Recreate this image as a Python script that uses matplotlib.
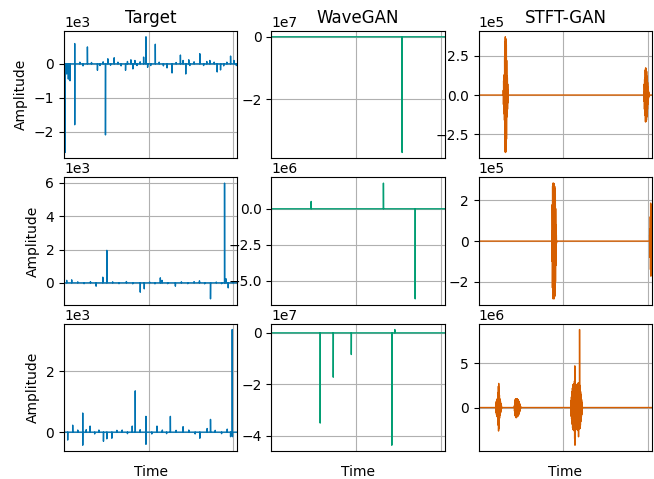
import numpy as np
import matplotlib
matplotlib.use("Agg")
import matplotlib.pyplot as plt

# 16384 samples at 16 kHz, baseline is flat zero
sr = 16000
n_samples = 16384
burst_step = 16

titles = ["Target", "WaveGAN", "STFT-GAN"]
colors = ["#0173b2", "#029e73", "#d55e00"]

# ---- Target (units of 1e3) ----
target1_idx = [95, 253, 411, 569, 1012, 1013, 1500, 1800, 2214, 2600, 3163, 3400, 3700,
               3922, 4144, 4400, 4745, 5100, 5400, 5820, 6000, 6326, 6516, 6706, 6900,
               7200, 7528, 7750, 7908, 8200, 8635, 9000, 9400, 9742, 10217, 10600, 11008,
               11260, 11513, 11798, 11900, 12300, 12842, 13200, 13500, 13791, 14200,
               14487, 14803, 15100, 15400, 15752, 16068, 16300]
target1_amp = [-2.62, -0.3, -0.45, -0.5, 0.6, -1.8, 0.05, -0.06, 0.5, 0.04, -0.19, -0.05, 0.06,
               -2.1, 0.15, -0.04, 0.18, 0.05, -0.06, -0.19, 0.07, 0.12, -0.15, 0.1, -0.05,
               0.06, 0.2, 0.8, -0.1, -0.05, 0.58, 0.05, -0.06, -0.12, -0.27, 0.04, 0.26,
               0.1, -0.3, 0.12, -0.05, 0.06, 0.3, -0.05, 0.07, 0.1, 0.05,
               -0.24, -0.18, -0.06, 0.05, 0.23, 0.1, -0.05]

target2_idx = [253, 727, 1300, 1900, 2500, 3036, 3669, 4049, 4600, 5200, 5900, 6500, 7212,
               7591, 8100, 8600, 9109, 9268, 9800, 10533, 11100, 11700, 12300, 12810,
               13300, 13854, 14400, 14900, 15182, 15309, 15530, 16000]
target2_amp = [0.15, 0.18, 0.06, -0.05, 0.07, -0.2, 0.34, 1.95, 0.06, -0.05, 0.08, -0.06, -0.56,
               -0.36, 0.05, -0.06, 0.3, 0.15, -0.05, -0.2, 0.06, -0.05, 0.07, 0.12,
               -0.06, -0.96, 0.05, -0.05, 5.98, 0.25, -0.3, 0.06]

target3_idx = [348, 822, 1300, 1771, 1772, 2100, 2467, 2900, 3300, 3732, 4049, 4523, 5000,
               5500, 6000, 6453, 6737, 7200, 7749, 7750, 8300, 8793, 9300, 9700, 10058,
               10600, 11260, 11800, 12400, 12842, 13538, 13854, 14300, 14900, 15435,
               15752, 15910, 15930]
target3_amp = [-0.26, 0.23, 0.07, 0.63, -0.43, 0.08, 0.2, -0.06, 0.07, -0.3, -0.22, -0.2, 0.06,
               0.07, -0.05, 0.2, 1.36, 0.08, 0.52, -0.4, -0.06, 0.2, 0.07, -0.05, 0.52,
               0.06, 0.18, 0.07, -0.06, -0.2, 0.12, 0.42, 0.06, -0.05, 0.1,
               -0.15, 3.38, -0.15]

# ---- WaveGAN ----
wavegan1_idx = [12367]
wavegan1_amp = [-3.71]          # 1e7
wavegan2_idx = [3764, 10596, 13601]
wavegan2_amp = [0.51, 1.78, -6.25]  # 1e6
wavegan3_idx = [4618, 5852, 7560, 11387, 11671]
wavegan3_amp = [-3.5, -1.72, -0.84, -4.36, 0.13]  # 1e7

# ---- STFT-GAN bursts: (start sample, values) ----
stft1_bursts = [  # 1e5
    (2320, [0.3, -0.6, 0.9, -1.1, 1.2, -1.2, 1.3, -1.6, 2.4, -2.9, 3.4, -3.6, 3.7, -3.65, 3.6,
            -3.6, 3.5, -3.5, 3.2, -2.8, 2.2, -1.4, 1.2, -1.2, 1.1, -0.9, 0.7, -0.5, 0.3, -0.1]),
    (15620, [0.2, -0.4, 0.7, -0.9, 1.0, -1.0, 1.1, -1.3, 1.6, -1.7, 1.72, -1.7, 1.7, -1.65, 1.6,
             -1.6, 1.5, -1.4, 1.2, -1.0, 1.0, -0.9, 0.8, -0.6, 0.5, -0.4, 0.3, -0.2, 0.2, -0.1,
             0.1, -0.05]),
]
stft2_bursts = [  # 1e5
    (6920, [0.5, -1.0, 1.8, -2.3, 2.7, -2.8, 2.85, -2.84, 2.8, -2.8, 2.85, -2.8, 2.8, -2.84,
            2.8, -2.75, 2.7, -2.7, 2.6, -2.5, 2.3, -2.0, 1.6, -1.2, 0.8, -0.5, 0.3, -0.1]),
    (16160, [0.3, -0.3, 0.6, -0.8, 1.2, -1.4, 1.87, -1.72, 1.8, -1.7, 1.7, -1.6, 1.5, -1.2]),
]
stft3_bursts = [  # 1e6
    (1600, [0.2, -0.3, 0.5, -0.6, 0.7, -0.8, 0.8, -0.9, 0.9, -1.0, 1.0, -1.1, 1.2, -1.4, 1.7,
            -2.0, 2.4, -2.65, 2.72, -2.4, 2.0, -1.7, 1.4, -1.2, 1.0, -0.9, 0.8, -0.7, 0.7,
            -0.6, 0.5, -0.4, 0.3, -0.3, 0.2, -0.1]),
    (3366, [0.2, -0.4, 0.6, -0.7, 0.8, -0.9, 0.95, -1.0, 1.0, -1.1, 1.0, -1.16, 1.0, -1.1,
            0.95, -1.05, 1.0, -1.0, 0.9, -1.0, 0.9, -0.95, 0.85, -0.9, 0.8, -0.85, 0.7, -0.7,
            0.6, -0.6, 0.5, -0.5, 0.4, -0.35, 0.3, -0.2, 0.15, -0.1, 0.05]),
    (8700, [0.3, -0.5, 0.8, -1.0, 1.2, -1.3, 1.5, -1.6, 1.8, -1.9,
            2.2, -2.3, 2.5, -2.4, 2.6, -2.5, 2.4, -2.6, 2.7, -2.3,
            2.5, -2.6, 3.0, -3.5, 4.7, -4.25, 3.2, -2.8, 2.6, -2.4,
            2.5, -2.3, 2.2, -2.4, 2.6, -2.2, 2.4, -2.5, 2.3, -2.1,
            2.5, -2.4, 2.7, -2.6, 2.5, 2.8, -3.3, 2.6, -2.4, 2.6,
            2.4, -2.2, 8.8, -2.4, 2.5, -2.3, 2.2, -2.0, 1.8, -1.6,
            1.5, -1.3, 1.2, -1.0, 0.9, -0.8, 0.6, -0.5, 0.3, -0.1]),
]


def build(idx=(), amp=(), bursts=(), scale=1.0):
    y = np.zeros(n_samples)
    y[list(idx)] = amp
    for start, vals in bursts:
        y[start:start + burst_step * len(vals):burst_step] = vals
    return y * scale


signals = [
    [build(target1_idx, target1_amp, scale=1e3),
     build(wavegan1_idx, wavegan1_amp, scale=1e7),
     build(bursts=stft1_bursts, scale=1e5)],
    [build(target2_idx, target2_amp, scale=1e3),
     build(wavegan2_idx, wavegan2_amp, scale=1e6),
     build(bursts=stft2_bursts, scale=1e5)],
    [build(target3_idx, target3_amp, scale=1e3),
     build(wavegan3_idx, wavegan3_amp, scale=1e7),
     build(bursts=stft3_bursts, scale=1e6)],
]

t = np.arange(n_samples) / sr

fig, axes = plt.subplots(3, 3, figsize=(6.54, 4.79), dpi=100)
for r in range(3):
    for c in range(3):
        ax = axes[r, c]
        ax.plot(t, signals[r][c], color=colors[c], lw=1)
        ax.set_xlim(t[0], t[-1])
        ax.grid(True)
        ax.ticklabel_format(axis="y", style="sci", scilimits=(0, 0))
        ax.tick_params(axis="x", bottom=False, labelbottom=False)
        if r == 0:
            ax.set_title(titles[c])
        if r == 2:
            ax.set_xlabel("Time", labelpad=10)
        if c == 0:
            ax.set_ylabel("Amplitude")

fig.subplots_adjust(left=64 / 654, right=652 / 654, top=1 - 31 / 479, bottom=1 - 451 / 479,
                    wspace=0.197, hspace=0.15)
fig.savefig("out.png", dpi=100)
